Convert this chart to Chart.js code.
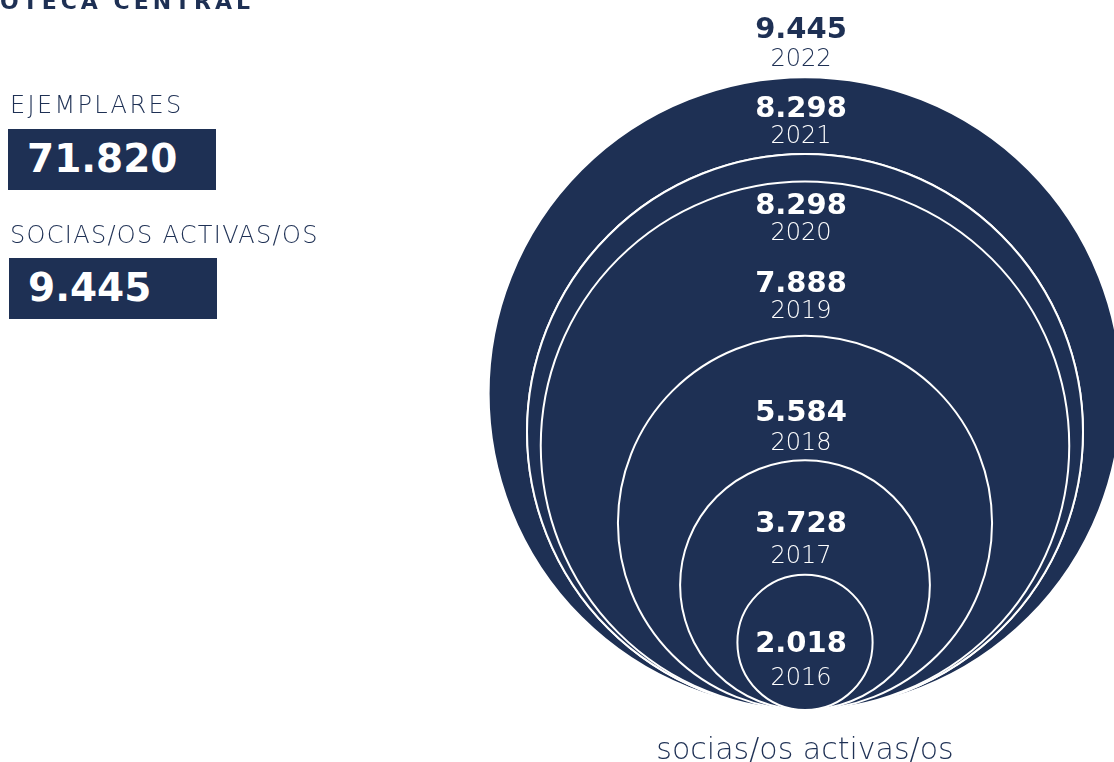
<!DOCTYPE html>
<html lang="es">
<head>
<meta charset="utf-8">
<title>Biblioteca Central - socias/os activas/os</title>
<script src="https://cdn.jsdelivr.net/npm/chart.js@4.4.0/dist/chart.umd.min.js"></script>
<style>
  html, body { margin: 0; padding: 0; background: #fff; }
  body { width: 1114px; height: 762px; position: relative; overflow: hidden; font-family: "DejaVu Sans", sans-serif; color: #1e3054; }
  #chart-wrap { position: absolute; left: 0; top: 0; width: 1114px; height: 762px; }
  .titulo { position: absolute; left: -84px; top: -9px; font-size: 22px; line-height: 22px; font-weight: bold; letter-spacing: 4px; white-space: nowrap; }
  .etiqueta { position: absolute; left: 10px; font-size: 24px; line-height: 24px; font-weight: 200; white-space: nowrap; }
  .caja { position: absolute; left: 8px; width: 208px; height: 61px; background: #1e3054; }
  .caja span { position: absolute; left: 19px; top: 10px; font-size: 39px; line-height: 39px; font-weight: bold; color: #fff; white-space: nowrap; }
  .pie { position: absolute; left: 605px; width: 400px; top: 734px; text-align: center; font-size: 30px; line-height: 30px; font-weight: 200; white-space: nowrap; }
</style>
</head>
<body>
<div id="chart-wrap"><canvas id="chart"></canvas></div>

<div class="titulo">BIBLIOTECA CENTRAL</div>
<div class="etiqueta" style="top:93px; letter-spacing:2.35px">EJEMPLARES</div>
<div class="caja" style="top:129px"><span id="total-ejemplares"></span></div>
<div class="etiqueta" style="top:223px; letter-spacing:1.3px">SOCIAS/OS ACTIVAS/OS</div>
<div class="caja" style="top:258px; left:9px"><span id="total-socias"></span></div>
<div class="pie">socias/os activas/os</div>

<script>
// Datos
const years = ['2016', '2017', '2018', '2019', '2020', '2021', '2022'];
const socias = [2018, 3728, 5584, 7888, 8298, 8298, 9445];
const totalEjemplares = 71820;
const totalSocias = 9445;

// posicion vertical (px) de la linea base de cada etiqueta: cifra y año
const valueLabelY = [652, 532, 421, 292, 214, 117, 38];
const yearLabelY = [685, 563, 450, 318, 240, 143, 66];

const NAVY = '#1e3054';

function formatNum(n) {
  return n.toLocaleString('de-DE');
}

document.getElementById('total-ejemplares').textContent = formatNum(totalEjemplares);
document.getElementById('total-socias').textContent = formatNum(totalSocias);

// circulos de mayor a menor, todos tangentes abajo (centro en y = valor/2)
const points = years.map((y, i) => ({ x: 0, y: socias[i] / 2, v: socias[i], year: y })).reverse();

function circleRadius(ctx) {
  const s = ctx.chart.scales.y;
  return (s.getPixelForValue(0) - s.getPixelForValue(ctx.raw.v)) / 2;
}

const circleLabels = {
  id: 'circleLabels',
  afterDatasetsDraw(chart) {
    const ctx = chart.ctx;
    const x = chart.scales.x.getPixelForValue(0) - 4;
    ctx.save();
    ctx.textAlign = 'center';
    ctx.textBaseline = 'alphabetic';
    years.forEach((year, i) => {
      // el ultimo año queda fuera del circulo, sobre fondo blanco
      ctx.fillStyle = i === years.length - 1 ? NAVY : '#fff';
      ctx.font = 'bold 29px "DejaVu Sans"';
      ctx.fillText(formatNum(socias[i]), x, valueLabelY[i]);
      ctx.font = '200 24px "DejaVu Sans"';
      ctx.fillText(year, x, yearLabelY[i]);
    });
    ctx.restore();
  }
};

const chart = new Chart(document.getElementById('chart').getContext('2d'), {
  type: 'scatter',
  data: {
    datasets: [{
      data: points,
      clip: false,
      pointBackgroundColor: NAVY,
      pointBorderColor: '#fff',
      pointBorderWidth: 2,
      pointHoverBorderWidth: 2,
      pointRadius: circleRadius,
      pointHoverRadius: circleRadius
    }]
  },
  options: {
    responsive: true,
    maintainAspectRatio: false,
    animation: false,
    events: [],
    layout: { padding: { left: 496, right: 0, top: 40, bottom: 52 } },
    scales: {
      x: { display: false, min: -1, max: 1 },
      y: { display: false, min: 0, max: 10000 }
    },
    plugins: {
      legend: { display: false },
      tooltip: { enabled: false }
    }
  },
  plugins: [circleLabels]
});
</script>
</body>
</html>
